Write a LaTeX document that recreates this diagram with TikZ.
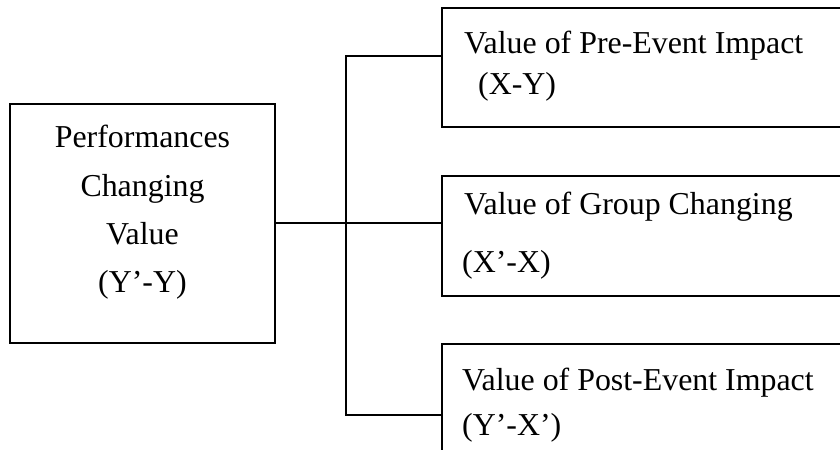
\documentclass[tikz,border=0pt]{standalone}
\usepackage{fontspec}
\setmainfont{Liberation Serif}
\begin{document}
\begin{tikzpicture}[x=1bp,y=-1bp,
  frame/.style={draw,line width=1.5bp,rectangle,inner sep=0pt,outer sep=0pt},
  wire/.style={line width=1.5bp},
  txt/.style={inner sep=0pt,anchor=base west,font=\fontsize{32}{38}\selectfont},
  ctxt/.style={inner sep=0pt,anchor=base,font=\fontsize{32}{38}\selectfont}]
\clip (0,0) rectangle (840,450);
\useasboundingbox (0,0) rectangle (840,450);

% source box on the left
\node[frame,anchor=north west,minimum width=265bp,minimum height=239bp] (src) at (10,104) {};
\node[ctxt] (s1) at (142.5,148) {Performances};
\node[ctxt] (s2) at (142.5,197) {Changing};
\node[ctxt] (s3) at (142.5,245) {Value};
\node[ctxt] (s4) at (142.5,293) {(Y’-Y)};

% three component boxes, open towards the right edge
\node[frame,anchor=north west,minimum width=430bp,minimum height=119bp] (pre) at (442,8) {};
\node[frame,anchor=north west,minimum width=430bp,minimum height=120bp] (grp) at (442,176) {};
\node[frame,anchor=north west,minimum width=430bp,minimum height=140bp] (post) at (442,344) {};

\node[txt] (p1) at (464,54) {Value of Pre-Event Impact};
\node[txt] (p2) at (478,95) {(X-Y)};
\node[txt] (g1) at (464,215) {Value of Group Changing};
\node[txt] (g2) at (462,273) {(X’-X)};
\node[txt] (q1) at (462,390) {Value of Post-Event Impact};
\node[txt] (q2) at (462,435) {(Y’-X’)};

% bracket connectors
\coordinate (j1) at (346,56);
\coordinate (jm) at (346,223);
\coordinate (j3) at (346,415);
\draw[wire] (src.east |- jm) -- (jm -| grp.west);
\draw[wire] (j1 -| pre.west) -- (j1) -- (j3) -- (j3 -| post.west);
\end{tikzpicture}
\end{document}
